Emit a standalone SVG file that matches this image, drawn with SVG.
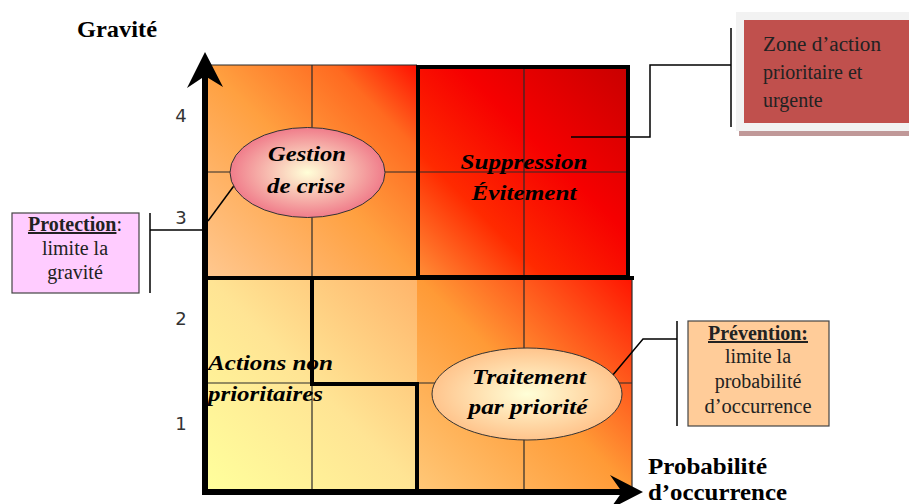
<svg xmlns="http://www.w3.org/2000/svg" width="909" height="504" viewBox="0 0 909 504">
<defs>
<style>
.grid{stroke:#2a2a2a;stroke-width:1.2;fill:none}
.thick{stroke:#000;stroke-width:4;fill:none;stroke-linecap:square}
.lbl{font-family:"Liberation Serif",serif;font-weight:bold;font-style:italic;fill:#000;text-anchor:middle}
.ax{font-family:"Liberation Serif",serif;font-weight:bold;fill:#000}
.num{font-family:"DejaVu Sans","Liberation Sans",sans-serif;font-size:18px;fill:#333;text-anchor:middle}
.box{font-family:"Liberation Serif",serif;font-size:20px;fill:#222;text-anchor:middle}
.lead{stroke:#000;stroke-width:1.5;fill:none}
</style>
<linearGradient id="gTL" x1="0" y1="1" x2="1" y2="0">
<stop offset="0" stop-color="#ffc890"/><stop offset="0.5" stop-color="#ffa040"/><stop offset="0.8" stop-color="#ff6a20"/><stop offset="1" stop-color="#ff1000"/>
</linearGradient>
<linearGradient id="gTR" x1="0" y1="1" x2="1" y2="0">
<stop offset="0" stop-color="#ff9038"/><stop offset="0.3" stop-color="#ff2a00"/><stop offset="0.6" stop-color="#f60000"/><stop offset="1" stop-color="#c80000"/>
</linearGradient>
<linearGradient id="gBL" x1="0" y1="1" x2="1" y2="0">
<stop offset="0" stop-color="#ffff9c"/><stop offset="0.5" stop-color="#ffe494"/><stop offset="1" stop-color="#ffb46a"/>
</linearGradient>
<linearGradient id="gBR" x1="0" y1="1" x2="1" y2="0">
<stop offset="0" stop-color="#ffc878"/><stop offset="0.5" stop-color="#ff9a36"/><stop offset="1" stop-color="#ff1400"/>
</linearGradient>
<radialGradient id="gEll1" cx="0.5" cy="0.5" r="0.5">
<stop offset="0" stop-color="#ffffd8"/><stop offset="1" stop-color="#f07c8a"/>
</radialGradient>
<radialGradient id="gEll2" cx="0.5" cy="0.5" r="0.5">
<stop offset="0" stop-color="#ffffd8"/><stop offset="1" stop-color="#ffc48c"/>
</radialGradient>
</defs>
<rect width="909" height="504" fill="#fff"/>

<g id="matrix">
<rect x="207" y="65" width="210" height="212" fill="url(#gTL)"/>
<rect x="417" y="67" width="212" height="210" fill="url(#gTR)"/>
<rect x="207" y="277" width="210" height="213" fill="url(#gBL)"/>
<rect x="417" y="277" width="215" height="213" fill="url(#gBR)"/>
<line class="grid" x1="207" y1="65" x2="417" y2="65"/>
<line class="grid" x1="312" y1="65" x2="312" y2="279"/>
<line class="grid" x1="312" y1="383" x2="312" y2="490"/>
<line class="grid" x1="524" y1="67" x2="524" y2="490"/>
<line class="grid" x1="207" y1="172" x2="629" y2="172"/>
<line class="grid" x1="207" y1="383" x2="632" y2="383"/>
<line class="grid" x1="632" y1="277" x2="632" y2="490"/>
<rect class="thick" x="418" y="67" width="210" height="210"/>
<line class="thick" x1="207" y1="278" x2="632" y2="278"/>
<polyline class="thick" points="312,279 312,384 417,384 417,490"/>
</g>

<g id="axes">
<line x1="205" y1="70" x2="205" y2="492" stroke="#000" stroke-width="6"/>
<polygon points="205,52 223,87 205,76 187,88" fill="#000"/>
<line x1="202" y1="492" x2="628" y2="492" stroke="#000" stroke-width="6"/>
<polygon points="643,492 610,475 622,492 610,509" fill="#000"/>
</g>

<g id="axis-labels">
<text class="ax" x="77" y="37" font-size="23" textLength="80" lengthAdjust="spacingAndGlyphs">Gravité</text>
<text class="ax" x="648" y="474" font-size="23" textLength="119" lengthAdjust="spacingAndGlyphs">Probabilité</text>
<text class="ax" x="648" y="500" font-size="23" textLength="139" lengthAdjust="spacingAndGlyphs">d’occurrence</text>
<text class="num" x="181" y="122">4</text>
<text class="num" x="181" y="224">3</text>
<text class="num" x="181" y="325">2</text>
<text class="num" x="181" y="430">1</text>
</g>

<g id="connectors">
<polyline class="lead" points="150,230 205,230"/>
<line class="lead" x1="150" y1="213" x2="150" y2="293"/>
<line class="lead" x1="208" y1="221" x2="236" y2="183" stroke-width="1"/>
<polyline class="lead" points="731,65 650,65 650,137 571,137" stroke-width="2"/>
<line class="lead" x1="731" y1="28" x2="731" y2="127" stroke-width="2"/>
<polyline class="lead" points="677,339 643,339 612,376" stroke-width="1"/>
<line class="lead" x1="677" y1="321" x2="677" y2="426"/>
</g>

<g id="node-gestion">
<ellipse cx="307.5" cy="172.5" rx="77.5" ry="45" fill="url(#gEll1)" stroke="#333" stroke-width="1"/>
<text class="lbl" x="307" y="161" font-size="21" textLength="78" lengthAdjust="spacingAndGlyphs">Gestion</text>
<text class="lbl" x="306" y="193" font-size="21" textLength="78" lengthAdjust="spacingAndGlyphs">de crise</text>
</g>

<g id="node-suppression">
<text class="lbl" x="524" y="169" font-size="21" textLength="127" lengthAdjust="spacingAndGlyphs">Suppression</text>
<text class="lbl" x="524" y="200" font-size="21" textLength="105" lengthAdjust="spacingAndGlyphs">Évitement</text>
</g>

<g id="node-actions">
<text class="lbl" x="208" y="370" font-size="21" textLength="125" lengthAdjust="spacingAndGlyphs" style="text-anchor:start">Actions non</text>
<text class="lbl" x="208" y="401" font-size="21" textLength="115" lengthAdjust="spacingAndGlyphs" style="text-anchor:start">prioritaires</text>
</g>

<g id="node-traitement">
<ellipse cx="527" cy="394" rx="95" ry="46" fill="url(#gEll2)" stroke="#333" stroke-width="1"/>
<text class="lbl" x="529" y="384" font-size="21" textLength="114" lengthAdjust="spacingAndGlyphs">Traitement</text>
<text class="lbl" x="528" y="414" font-size="21" textLength="119" lengthAdjust="spacingAndGlyphs">par priorité</text>
</g>

<g id="node-protection">
<rect x="12" y="213" width="127" height="80" fill="#ffccff" stroke="#444" stroke-width="1.2"/>
<text class="box" x="75" y="231"><tspan font-weight="bold" text-decoration="underline">Protection</tspan>:</text>
<text class="box" x="75" y="255">limite la</text>
<text class="box" x="75" y="279">gravité</text>
</g>

<g id="node-zone">
<rect x="739" y="131" width="170" height="5" fill="#c09898"/>
<rect x="736" y="12" width="173" height="119" fill="#f2f2f2"/>
<rect x="744" y="20" width="165" height="103" fill="#c0504d"/>
<text class="box" x="763" y="51" font-size="21" textLength="118" lengthAdjust="spacingAndGlyphs" style="text-anchor:start">Zone d’action</text>
<text class="box" x="763" y="79" font-size="21" style="text-anchor:start">prioritaire et</text>
<text class="box" x="763" y="107" font-size="21" style="text-anchor:start">urgente</text>
</g>

<g id="node-prevention">
<rect x="688" y="321" width="141" height="105" fill="#ffcc99" stroke="#444" stroke-width="1.2"/>
<text class="box" x="758" y="340"><tspan font-weight="bold" text-decoration="underline">Prévention:</tspan></text>
<text class="box" x="758" y="363">limite la</text>
<text class="box" x="758" y="388">probabilité</text>
<text class="box" x="758" y="413" textLength="107" lengthAdjust="spacingAndGlyphs">d’occurrence</text>
</g>
</svg>
